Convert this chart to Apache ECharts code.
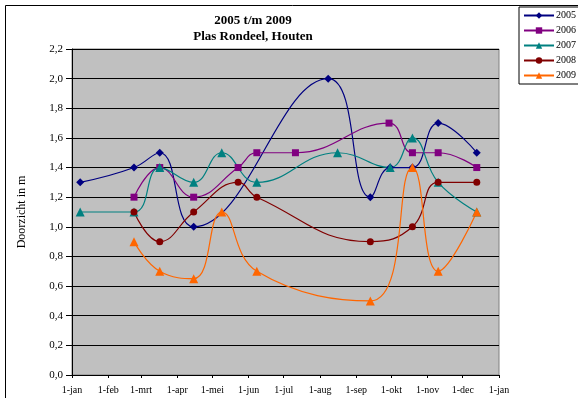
<!DOCTYPE html>
<html>
<head>
<meta charset="utf-8">
<script src="https://cdn.jsdelivr.net/npm/echarts@6/dist/echarts.min.js"></script>
<style>html,body{margin:0;padding:0;background:#fff;}#c{width:578px;height:398px;}</style>
</head>
<body>
<div id="c"></div>
<script>
// Month tick positions (day of year) and labels
var monthDays = [0, 31, 59, 90, 120, 151, 181, 212, 243, 273, 304, 334, 365];
var monthLabels = ['1-jan','1-feb','1-mrt','1-apr','1-mei','1-jun','1-jul','1-aug','1-sep','1-okt','1-nov','1-dec','1-jan'];

// Series: sample day of year and visibility depth (m)
var days2005 = [7, 53, 75, 104, 219, 255, 272, 291, 313, 346];
var vals2005 = [1.3, 1.4, 1.5, 1.0, 2.0, 1.2, 1.4, 1.4, 1.7, 1.5];

var days2006 = [53, 75, 104, 142, 158, 191, 271, 291, 313, 346];
var vals2006 = [1.2, 1.4, 1.2, 1.4, 1.5, 1.5, 1.7, 1.5, 1.5, 1.4];

var days2007 = [7, 53, 75, 104, 128, 158, 227, 272, 291, 313, 346];
var vals2007 = [1.1, 1.1, 1.4, 1.3, 1.5, 1.3, 1.5, 1.4, 1.6, 1.3, 1.1];

var days2008 = [53, 75, 104, 142, 158, 255, 291, 313, 346];
var vals2008 = [1.1, 0.9, 1.1, 1.3, 1.2, 0.9, 1.0, 1.3, 1.3];

var days2009 = [53, 75, 104, 128, 158, 255, 291, 313, 346];
var vals2009 = [0.9, 0.7, 0.65, 1.1, 0.7, 0.5, 1.4, 0.7, 1.1];

var seriesNames = ['2005', '2006', '2007', '2008', '2009'];

function pairs(d, v) { return d.map(function (x, i) { return [x, v[i]]; }); }

var FONT = "'Liberation Serif', 'Times New Roman', serif";

var styles = [
  { color: '#000080', symbol: 'diamond', size: 8 },
  { color: '#800080', symbol: 'rect', size: 7 },
  { color: '#008080', symbol: 'triangle', size: 9 },
  { color: '#800000', symbol: 'circle', size: 7 },
  { color: '#FF6600', symbol: 'triangle', size: 9 }
];
var allData = [
  pairs(days2005, vals2005),
  pairs(days2006, vals2006),
  pairs(days2007, vals2007),
  pairs(days2008, vals2008),
  pairs(days2009, vals2009)
];

var chart = echarts.init(document.getElementById('c'), null, { renderer: 'canvas' });
chart.setOption({
  animation: false,
  backgroundColor: '#fff',
  textStyle: { fontFamily: FONT },
  graphic: [{
    type: 'rect', z: -10, silent: true,
    shape: { x: 5.5, y: 5.5, width: 620, height: 430 },
    style: { fill: 'none', stroke: '#000', lineWidth: 1 }
  }],
  title: {
    text: '2005 t/m 2009\nPlas Rondeel, Houten',
    left: 248, top: 8, textAlign: 'center',
    textStyle: { fontFamily: FONT, fontSize: 13, fontWeight: 'bold', color: '#000', lineHeight: 16 }
  },
  legend: {
    orient: 'vertical',
    left: 519, top: 7,
    padding: [3, 30, 3, 4],
    itemWidth: 30, itemHeight: 8, itemGap: 4,
    backgroundColor: '#fff',
    borderColor: '#000', borderWidth: 1, borderRadius: 0,
    textStyle: { fontFamily: FONT, fontSize: 10, color: '#000', lineHeight: 11, padding: [0, 0, 0, -3] },
    data: seriesNames
  },
  grid: {
    left: 72, right: 79, top: 49, bottom: 23,
    show: true, backgroundColor: '#C0C0C0', borderColor: '#808080', borderWidth: 1,
    containLabel: false
  },
  xAxis: {
    type: 'value', min: 0, max: 365,
    axisLine: { show: true, lineStyle: { color: '#000', width: 1 } },
    axisTick: { show: true, customValues: monthDays, length: 3, inside: false, lineStyle: { color: '#000' } },
    axisLabel: {
      customValues: monthDays,
      fontFamily: FONT, fontSize: 10, color: '#000', margin: 10,
      formatter: function (v) { var i = monthDays.indexOf(Math.round(v)); return i >= 0 ? monthLabels[i] : ''; }
    },
    splitLine: { show: false }
  },
  yAxis: {
    type: 'value', min: 0, max: 2.2, interval: 0.2,
    name: 'Doorzicht in m', nameLocation: 'middle', nameGap: 44, nameRotate: 90,
    nameTextStyle: { fontFamily: FONT, fontSize: 12, color: '#000' },
    axisLine: { show: true, lineStyle: { color: '#000', width: 1 } },
    axisTick: { show: true, length: 6, lineStyle: { color: '#000' } },
    axisLabel: {
      fontFamily: FONT, fontSize: 11, color: '#000', margin: 9,
      formatter: function (v) { return v.toFixed(1).replace('.', ','); }
    },
    splitLine: { show: true, lineStyle: { color: '#000', width: 1 } }
  },
  series: seriesNames.map(function (n, i) {
    return {
      name: n, type: 'line', data: allData[i], smooth: 0.45,
      symbol: styles[i].symbol, symbolSize: styles[i].size, showSymbol: true,
      lineStyle: { color: styles[i].color, width: 1.2 },
      itemStyle: { color: styles[i].color },
      emphasis: { disabled: true }
    };
  })
});
</script>
</body>
</html>
